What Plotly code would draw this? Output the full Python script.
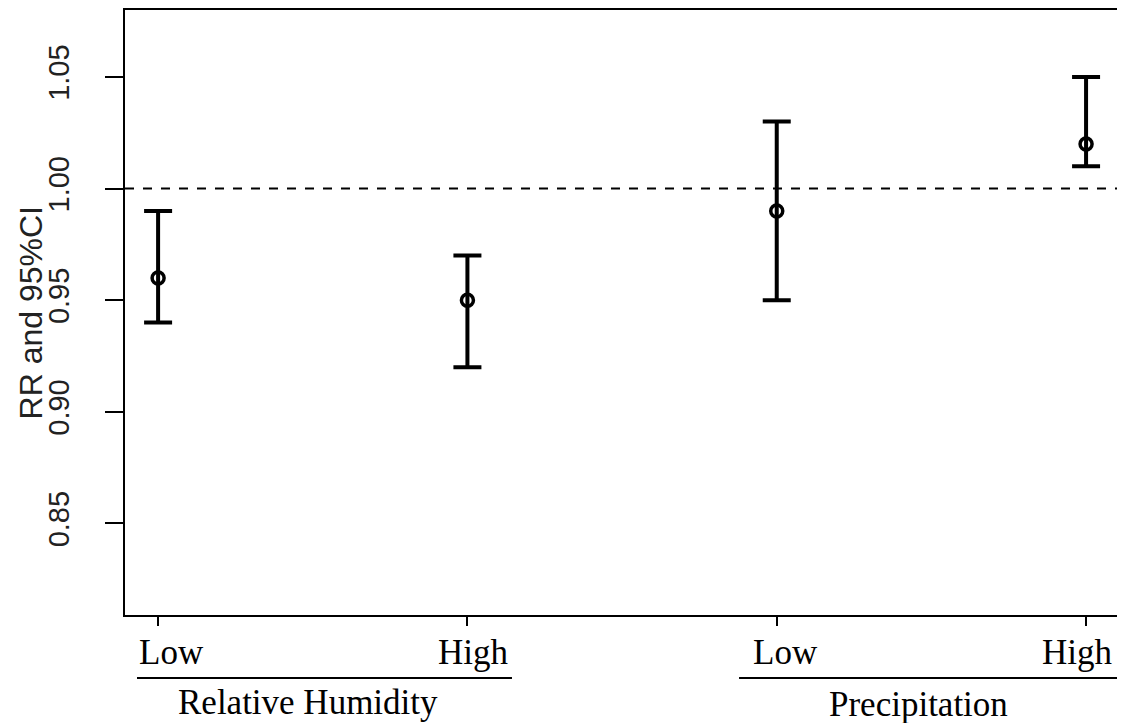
import plotly.graph_objects as go

# ---- data ----
groups = ["Relative Humidity", "Relative Humidity", "Precipitation", "Precipitation"]
levels = ["Low", "High", "Low", "High"]
positions = [1, 2, 3, 4]
rr = [0.96, 0.95, 0.99, 1.02]
ci_low = [0.94, 0.92, 0.95, 1.01]
ci_high = [0.99, 0.97, 1.03, 1.05]
y_ticks = [0.85, 0.90, 0.95, 1.00, 1.05]
ref_value = 1.00

err_plus = [h - v for h, v in zip(ci_high, rr)]
err_minus = [v - l for v, l in zip(rr, ci_low)]

fig = go.Figure()
fig.add_trace(go.Scatter(
    x=positions, y=rr, mode="markers",
    marker=dict(symbol="circle-open", size=12, color="black", line=dict(width=3.5, color="black")),
    error_y=dict(type="data", symmetric=False, array=err_plus, arrayminus=err_minus,
                 color="black", thickness=4, width=14),
    showlegend=False, hoverinfo="skip",
))

# reference line
fig.add_shape(type="line", xref="paper", yref="y", x0=0, x1=1, y0=ref_value, y1=ref_value,
              line=dict(color="black", width=2, dash="dash"))

serif = "Liberation Serif, Times New Roman, serif"
sans = "Liberation Sans, Arial, sans-serif"

# level labels under ticks
label_shift = [13, 6, 9, -9]
for p, lv, sh in zip(positions, levels, label_shift):
    fig.add_annotation(x=p, xref="x", y=-0.062, yref="paper", text=lv, showarrow=False,
                       xshift=sh, yanchor="middle", xanchor="center",
                       font=dict(family=serif, size=35, color="black"))

# group lines & labels
fig.add_shape(type="line", xref="paper", yref="paper", x0=0.0121, x1=0.3901, y0=-0.104, y1=-0.104,
              line=dict(color="black", width=2))
fig.add_shape(type="line", xref="paper", yref="paper", x0=0.619, x1=1.001, y0=-0.104, y1=-0.104,
              line=dict(color="black", width=2))
fig.add_annotation(x=0.1845, xref="paper", y=-0.145, yref="paper", text="Relative Humidity",
                   showarrow=False, yanchor="middle", xanchor="center",
                   font=dict(family=serif, size=35, color="black"))
fig.add_annotation(x=0.8004, xref="paper", y=-0.148, yref="paper", text="Precipitation",
                   showarrow=False, yanchor="middle", xanchor="center",
                   font=dict(family=serif, size=35, color="black"))

# y title
fig.add_annotation(x=-0.0948, xref="paper", y=0.5, yref="paper", text="RR and 95%CI",
                   textangle=-90, showarrow=False, xanchor="center", yanchor="middle",
                   font=dict(family=sans, size=32, color="#222222"))

fig.update_layout(
    width=1117, height=715,
    margin=dict(l=117, r=8, t=2, b=108),
    paper_bgcolor="white", plot_bgcolor="white",
    xaxis=dict(range=[0.893, 4.1], tickvals=positions, ticktext=["", "", "", ""],
               ticks="outside", ticklen=9, tickwidth=2, tickcolor="black",
               showline=True, linecolor="black", linewidth=2, mirror=True,
               showgrid=False, zeroline=False, automargin=False),
    yaxis=dict(range=[0.809, 1.080], tickvals=y_ticks,
               ticktext=[f"{v:.2f}" for v in y_ticks],
               tickangle=-90, ticks="outside", ticklen=18, tickwidth=2, tickcolor="black",
               ticklabelstandoff=24,
               tickfont=dict(family=sans, size=29, color="#222222"),
               showline=True, linecolor="black", linewidth=2, mirror=True,
               showgrid=False, zeroline=False, automargin=False),
)

fig.write_html("out.html")
